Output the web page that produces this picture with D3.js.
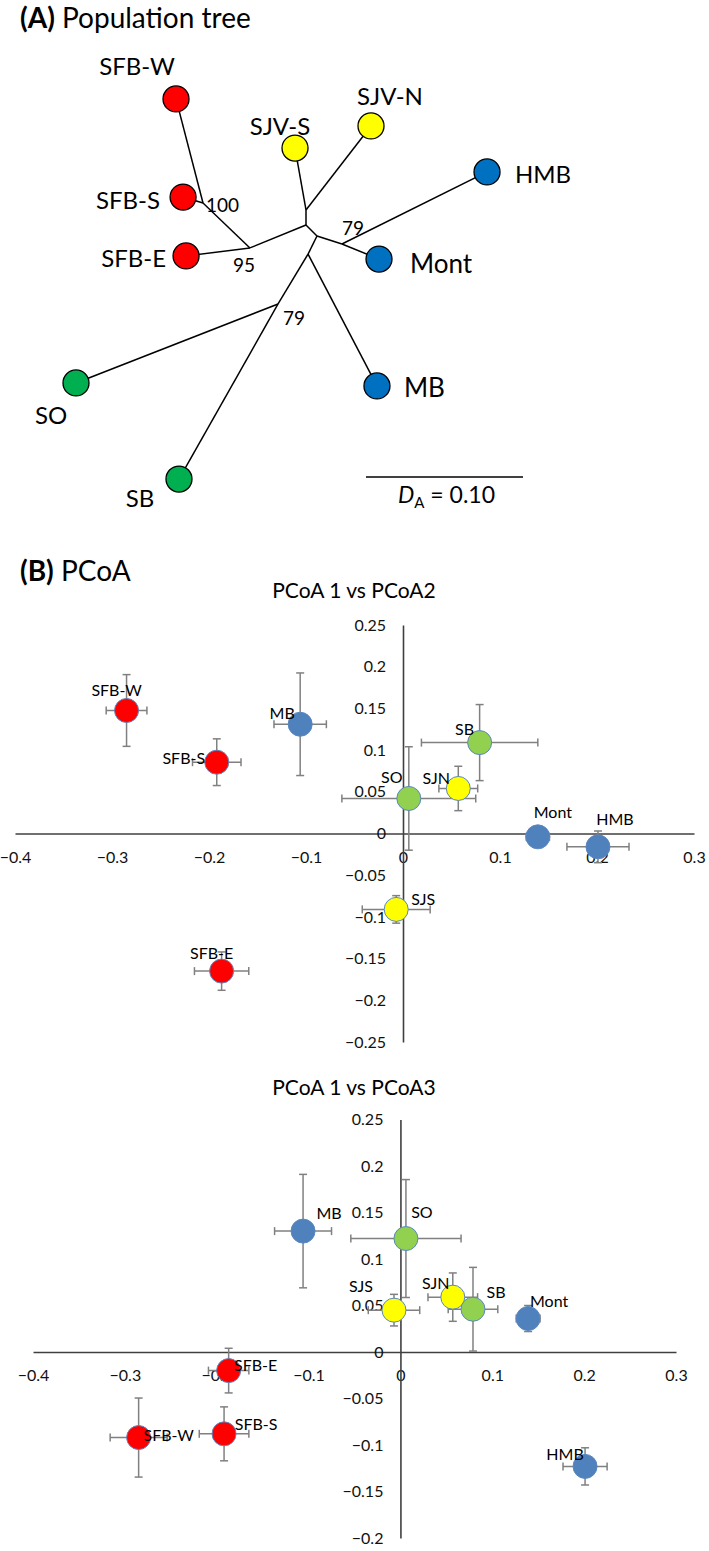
<!DOCTYPE html>
<html><head><meta charset="utf-8">
<script src="https://cdn.jsdelivr.net/npm/d3@7"></script>
<style>
body{margin:0;background:#fff}
svg{display:block}
text{font-family:Lato,'Open Sans',sans-serif}
</style>
</head><body>
<svg id="c" width="709" height="1551"></svg>
<script>
// ---------- (A) Population tree data (node layout in D_A units) ----------
const treeNodes = ["c0","sjv","SJV-S","SJV-N","n95","n100","SFB-W","SFB-S","SFB-E","c1","n79a","HMB","Mont","c2","n79b","SO","SB","MB"];
const treeU = [0, 0, -0.0070, 0.0414, -0.0357, -0.0656, -0.0828, -0.0783, -0.0764, 0.0070, 0.0229, 0.1153, 0.0465, 0.0013, -0.0178, -0.1465, -0.0809, 0.0452];
const treeV = [0, -0.0096, -0.0490, -0.0631, 0.0146, -0.0140, -0.0803, -0.0178, 0.0197, 0.0070, 0.0121, -0.0338, 0.0217, 0.0185, 0.0503, 0.1006, 0.1618, 0.1025];
const treeEdges = [["c0","sjv"],["sjv","SJV-S"],["sjv","SJV-N"],["c0","n95"],["n95","n100"],["n100","SFB-W"],["n100","SFB-S"],["n95","SFB-E"],["c0","c1"],["c1","n79a"],["n79a","HMB"],["n79a","Mont"],["c1","c2"],["c2","n79b"],["n79b","SO"],["n79b","SB"],["c2","MB"]];
const leaves = ["SFB-W","SFB-S","SFB-E","SJV-S","SJV-N","HMB","Mont","MB","SO","SB"];
const leafGroup = ["SFB","SFB","SFB","SJV","SJV","Coast","Coast","Coast","South","South"];
const bootNodes = ["n100","n95","n79a","n79b"];
const bootValues = [100, 95, 79, 79];
const scaleBarValue = 0.10;

// ---------- (B) PCoA data ----------
const pops = ["SFB-W","SFB-S","SFB-E","SJS","SJN","SO","SB","MB","Mont","HMB"];
const popGroup = ["SFB","SFB","SFB","SJV","SJV","South","South","Coast","Coast","Coast"];
const pc1 = [-0.285, -0.192, -0.187, -0.007, 0.057, 0.006, 0.079, -0.106, 0.139, 0.201];
const pc1ErrA = [0.021, 0.025, 0.028, 0.035, 0.020, 0.069, 0.060, 0.027, 0.012, 0.032];
const pc2 = [0.1475, 0.0855, -0.165, -0.091, 0.054, 0.042, 0.109, 0.131, -0.004, -0.016];
const pc2Err = [0.043, 0.028, 0.023, 0.0165, 0.0266, 0.062, 0.0456, 0.0615, 0.012, 0.019];
const pc1ErrB = [0.031, 0.027, 0.022, 0.028, 0.027, 0.060, 0.027, 0.031, 0.013, 0.024];
const pc3 = [-0.092, -0.088, -0.020, 0.045, 0.059, 0.122, 0.046, 0.130, 0.036, -0.123];
const pc3Err = [0.0425, 0.029, 0.024, 0.017, 0.026, 0.0634, 0.045, 0.061, 0.014, 0.020];
const xTicks = [-0.4, -0.3, -0.2, -0.1, 0, 0.1, 0.2, 0.3];
const yTicksA = [-0.25, -0.2, -0.15, -0.1, -0.05, 0, 0.05, 0.1, 0.15, 0.2, 0.25];
const yTicksB = [-0.2, -0.15, -0.1, -0.05, 0, 0.05, 0.1, 0.15, 0.2, 0.25];

// ---------- styles / layout ----------
const FONT = "Lato, 'Open Sans', sans-serif";
const treeColor = {SFB:"#FF0000", SJV:"#FFFF00", Coast:"#0070C0", South:"#00B050"};
const pcColor = {SFB:"#FF0000", SJV:"#FFFF00", Coast:"#4F81BD", South:"#92D050"};
const leafLabelPos = {
  "SFB-W":[-39,-24,"middle",24], "SJV-S":[-15,-13,"middle",24], "SJV-N":[19,-21,"middle",24],
  "HMB":[28,11,"start",24], "Mont":[31,14,"start",26], "SFB-S":[-23,12,"end",24],
  "SFB-E":[-20,11,"end",24], "SO":[-25,41,"middle",24], "SB":[-39,28,"middle",24], "MB":[27,11,"start",26]
};
const bootPos = {"n100":[3,9,"start"], "n95":[-17,24,"start"], "n79a":[0,-9,"start"], "n79b":[5,21,"start"]};
const labelOffA = {"SFB-W":[-10,-20],"MB":[-18,-11],"SFB-S":[-33,-4],"SB":[-15,-13],"SO":[-17,-21],"SJN":[-22,-10],"Mont":[15,-24],"HMB":[17,-27],"SJS":[27,-10],"SFB-E":[-10,-18]};
const labelOffB = {"MB":[26,-18],"SO":[16,-26],"SJS":[-33,-24],"SJN":[-17,-14],"SB":[23,-17],"Mont":[21,-17],"HMB":[-20,-12],"SFB-E":[27,-5],"SFB-W":[30,-2],"SFB-S":[32,-9]};

const svg = d3.select("#c");
svg.append("rect").attr("width",709).attr("height",1551).attr("fill","#fff");

// ---------- Panel A ----------
const tA = svg.append("text").attr("x",20).attr("y",28).attr("font-size",28).attr("fill","#000");
tA.append("tspan").attr("font-weight","bold").text("(A)");
tA.append("tspan").text(" Population tree");

const tx = d3.scaleLinear().domain([0, 0.1]).range([306, 463]);
const ty = d3.scaleLinear().domain([0, 0.1]).range([225, 382]);
const nodeIdx = new Map(treeNodes.map((n,i)=>[n,i]));
const NX = n => tx(treeU[nodeIdx.get(n)]);
const NY = n => ty(treeV[nodeIdx.get(n)]);

const gT = svg.append("g");
gT.selectAll("line.edge").data(treeEdges).join("line").attr("class","edge")
  .attr("x1",d=>NX(d[0])).attr("y1",d=>NY(d[0])).attr("x2",d=>NX(d[1])).attr("y2",d=>NY(d[1]))
  .attr("stroke","#000").attr("stroke-width",1.5);
gT.selectAll("circle.leaf").data(leaves).join("circle").attr("class","leaf")
  .attr("cx",d=>NX(d)).attr("cy",d=>NY(d)).attr("r",13)
  .attr("fill",(d,i)=>treeColor[leafGroup[i]]).attr("stroke","#000").attr("stroke-width",1.3);
gT.selectAll("text.leafLab").data(leaves).join("text").attr("class","leafLab")
  .attr("x",d=>NX(d)+leafLabelPos[d][0]).attr("y",d=>NY(d)+leafLabelPos[d][1])
  .attr("text-anchor",d=>leafLabelPos[d][2]).attr("font-size",d=>leafLabelPos[d][3]).attr("fill","#000").text(d=>d);
gT.selectAll("text.boot").data(bootNodes).join("text").attr("class","boot")
  .attr("x",d=>NX(d)+bootPos[d][0]).attr("y",d=>NY(d)+bootPos[d][1])
  .attr("text-anchor",d=>bootPos[d][2]).attr("font-size",19).attr("fill","#000")
  .text((d,i)=>bootValues[i]);
// scale bar
const sbX0 = 366;
const sbLen = tx(scaleBarValue) - tx(0);
gT.append("line").attr("x1",sbX0).attr("x2",sbX0+sbLen).attr("y1",477).attr("y2",477).attr("stroke","#000").attr("stroke-width",1.4);
const sbT = gT.append("text").attr("x",sbX0+sbLen/2+2).attr("y",503).attr("text-anchor","middle").attr("font-size",23).attr("fill","#000");
sbT.append("tspan").attr("font-style","italic").text("D");
sbT.append("tspan").attr("font-size",15).attr("dy",5).text("A");
sbT.append("tspan").attr("dy",-5).text(" = " + d3.format(".2f")(scaleBarValue));

// ---------- Panel B ----------
const tB = svg.append("text").attr("x",20).attr("y",581).attr("font-size",28).attr("fill","#000");
tB.append("tspan").attr("font-weight","bold").text("(B)");
tB.append("tspan").text(" PCoA");

const fmt = d3.format(".2~f");

function pcoa(cfg){
  const g = svg.append("g");
  const x = d3.scaleLinear().domain([xTicks[0], xTicks[xTicks.length-1]]).range(cfg.xr);
  const y = d3.scaleLinear().domain([cfg.yTicks[0], cfg.yTicks[cfg.yTicks.length-1]]).range(cfg.yr);
  g.append("text").attr("x",cfg.titleX).attr("y",cfg.titleY).attr("text-anchor","middle")
    .attr("font-size",21).attr("fill","#000").text(cfg.title);
  const gx = g.append("g").attr("transform",`translate(0,${y(0)})`)
    .call(d3.axisBottom(x).tickValues(xTicks).tickSize(0).tickSizeOuter(0).tickPadding(18).tickFormat(fmt));
  const gy = g.append("g").attr("transform",`translate(${x(0)},0)`)
    .call(d3.axisLeft(y).tickValues(cfg.yTicks).tickSize(0).tickSizeOuter(0).tickPadding(17).tickFormat(fmt));
  [gx,gy].forEach(a=>{
    a.attr("font-family",FONT).attr("font-size",16);
    a.select(".domain").attr("stroke","#404040").attr("stroke-width",1.6);
    a.selectAll("text").attr("fill","#111");
  });
  const idx = d3.range(pops.length);
  const eb = g.append("g").attr("stroke","#808080").attr("stroke-width",1.5);
  const cap = 4;
  idx.forEach(i=>{
    const cx = x(pc1[i]), cy = y(cfg.yv[i]);
    const xl = x(pc1[i]-cfg.xe[i]), xh = x(pc1[i]+cfg.xe[i]);
    const yl = y(cfg.yv[i]-cfg.ye[i]), yh = y(cfg.yv[i]+cfg.ye[i]);
    eb.append("line").attr("x1",xl).attr("x2",xh).attr("y1",cy).attr("y2",cy);
    eb.append("line").attr("x1",xl).attr("x2",xl).attr("y1",cy-cap).attr("y2",cy+cap);
    eb.append("line").attr("x1",xh).attr("x2",xh).attr("y1",cy-cap).attr("y2",cy+cap);
    eb.append("line").attr("x1",cx).attr("x2",cx).attr("y1",yl).attr("y2",yh);
    eb.append("line").attr("x1",cx-cap).attr("x2",cx+cap).attr("y1",yl).attr("y2",yl);
    eb.append("line").attr("x1",cx-cap).attr("x2",cx+cap).attr("y1",yh).attr("y2",yh);
  });
  g.selectAll("circle.pt").data(idx).join("circle").attr("class","pt")
    .attr("cx",i=>x(pc1[i])).attr("cy",i=>y(cfg.yv[i])).attr("r",12)
    .attr("fill",i=>pcColor[popGroup[i]]).attr("stroke","#5B87C0").attr("stroke-width",1);
  g.selectAll("text.pl").data(idx).join("text").attr("class","pl")
    .attr("x",i=>x(pc1[i])+cfg.lab[pops[i]][0]).attr("y",i=>y(cfg.yv[i])+cfg.lab[pops[i]][1])
    .attr("dy","0.35em").attr("text-anchor","middle").attr("font-size",16).attr("fill","#000")
    .text(i=>pops[i]);
}

pcoa({title:"PCoA 1 vs PCoA2", titleX:354, titleY:598, xr:[15,694], yr:[1042,625],
      yTicks:yTicksA, yv:pc2, ye:pc2Err, xe:pc1ErrA, lab:labelOffA});
pcoa({title:"PCoA 1 vs PCoA3", titleX:354, titleY:1095, xr:[33,676], yr:[1538,1119.5],
      yTicks:yTicksB, yv:pc3, ye:pc3Err, xe:pc1ErrB, lab:labelOffB});
</script>
</body></html>
